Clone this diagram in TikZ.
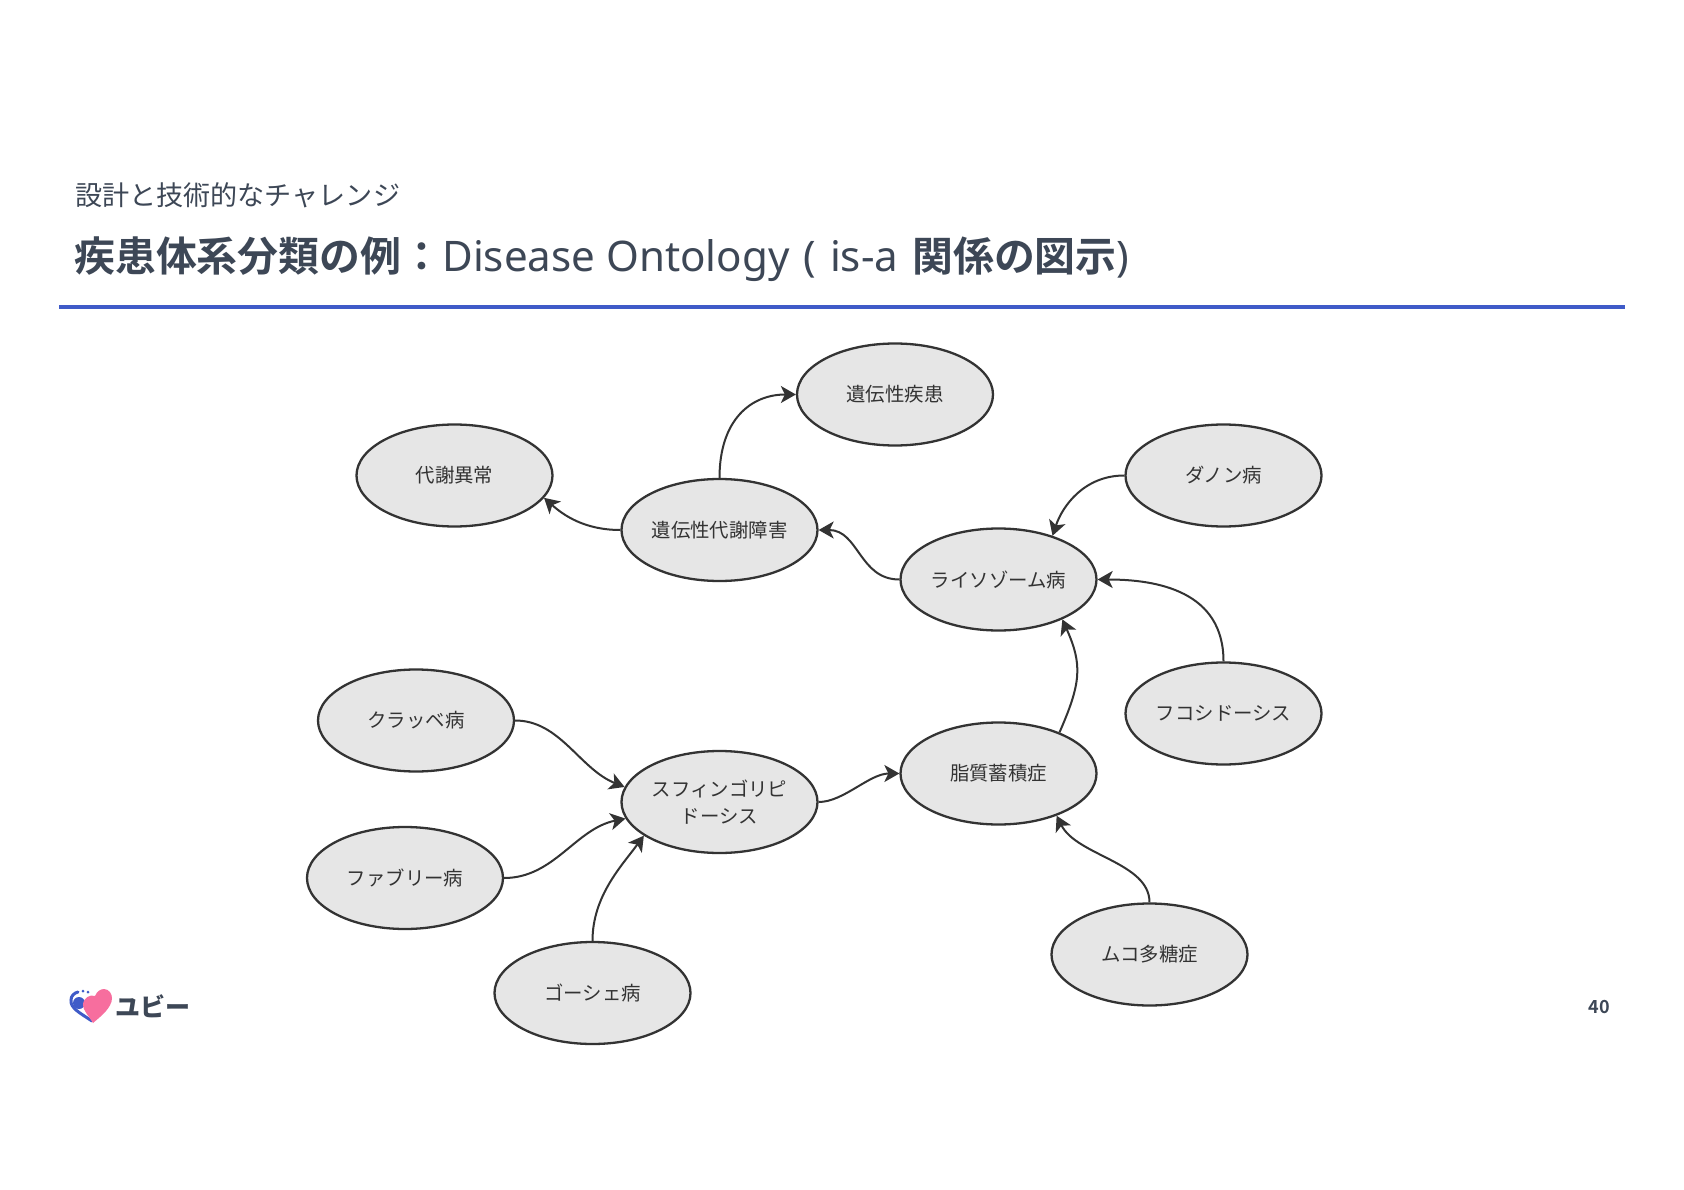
\documentclass[tikz,border=0pt]{standalone}
\usepackage{fontspec}
\setmainfont{Noto Sans CJK JP}
\newfontfamily\jpbold{Noto Sans CJK JP Bold}
\newfontfamily\jpblack{Noto Sans CJK JP Black}
\newfontfamily\latinf{Noto Sans}
\usetikzlibrary{arrows.meta,shapes.geometric}
\definecolor{nodefill}{HTML}{E6E6E6}
\definecolor{ink}{HTML}{333333}
\definecolor{slate}{HTML}{3D4756}
\definecolor{rule}{HTML}{3F5BC8}
\definecolor{heart}{HTML}{F76E9E}
\tikzset{
 dis/.style={ellipse,draw=ink,fill=nodefill,line width=2.3pt,minimum width=196pt,minimum height=102pt,inner sep=0pt,align=center,font=\fontsize{19.4}{27}\selectfont,text=ink},
 lnk/.style={draw=ink,line width=2pt,-{Stealth[length=15pt,width=17pt,inset=4pt]}},
 head/.style={anchor=base west,text=slate,inner sep=0pt}
}
\begin{document}
\begin{tikzpicture}[x=1pt,y=-1pt]
\useasboundingbox (0,0) rectangle (1684,1190);
\fill[white] (0,0) rectangle (1684,1190);
\node[head,font=\fontsize{27.1}{32}\selectfont] (sub) at (75,206) {設計と技術的なチャレンジ};
\node[head,font=\fontsize{40.9}{48}\selectfont] (ttl) at (74,272) {{\jpbold 疾患体系分類の例：}{\latinf\fontsize{42.1}{48}\selectfont Disease Ontology\hspace{3pt} (\hspace{3pt} is-a\hspace{3pt} }{\jpbold 関係の図示}{\latinf\fontsize{42.1}{48}\selectfont )}};
\draw[rule,line width=3.5pt] (59,307) coordinate (r1) -- (1625,307) coordinate (r2);
\node[dis] (ig) at (895,394.5) {遺伝性疾患};
\node[dis] (ta) at (454.5,475.5) {代謝異常};
\node[dis] (im) at (719.5,530) {遺伝性代謝障害};
\node[dis] (da) at (1223.5,475.5) {ダノン病};
\node[dis] (ly) at (998.5,579.5) {ライソゾーム病};
\node[dis] (fu) at (1223.5,713.5) {フコシドーシス};
\node[dis] (ku) at (416,720.5) {クラッベ病};
\node[dis] (sf) at (719.5,802) {スフィンゴリピ\\ドーシス};
\node[dis] (sh) at (998.5,773.5) {脂質蓄積症};
\node[dis] (fa) at (405,878) {ファブリー病};
\node[dis] (go) at (592.5,993) {ゴーシェ病};
\node[dis] (mu) at (1149.5,954.5) {ムコ多糖症};
\draw[lnk] (im.north) .. controls +(0,-58) and +(-45,0) .. (ig.west);
\draw[lnk] (im.west) .. controls +(-35,0) and +(20,18) .. (ta.-14);
\draw[lnk] (ly.west) .. controls +(-40,0) and +(40,0) .. (im.east);
\draw[lnk] (da.west) .. controls +(-40,0) and +(10,-30) .. (ly.39);
\draw[lnk] (fu.north) .. controls +(0,-70) and +(60,0) .. (ly.east);
\draw[lnk] (sh.34) .. controls +(22,-50) and +(20,45) .. (ly.-32);
\draw[lnk] (sf.east) .. controls +(25,0) and +(-30,0) .. (sh.west);
\draw[lnk] (ku.east) .. controls +(45,0) and +(-45,-18) .. (sf.171);
\draw[lnk] (fa.east) .. controls +(50,0) and +(-50,10) .. (sf.190);
\draw[lnk] (go.north) .. controls +(0,-45) and +(-22,30) .. (sf.204);
\draw[lnk] (mu.north) .. controls +(0,-40) and +(20,40) .. (sh.-36);
% logo
\fill[rule] (79,1003) circle (6pt);
\draw[rule,line width=3pt,line cap=round] (92,1021) .. controls (80,1013) and (70,1008) .. (71,1000) .. controls (71,996) and (74,993) .. (78,992);
\fill[rule] (83,991) circle (1.5pt);
\fill[rule] (88,992) circle (1.5pt);
\fill[heart] (93,1023) .. controls (88,1015) and (83,1010) .. (83,1005) .. controls (83,998) and (90,994) .. (95,996) .. controls (97,991) and (101,989) .. (104,989) .. controls (109,989) and (112,994) .. (112,998) .. controls (112,1008) and (100,1017) .. (93,1023) -- cycle;
\node[inner sep=0pt,text=slate,anchor=center,font=\jpblack\fontsize{25}{25}\selectfont] (lg) at (152.5,1006) {ユビー};
\node[inner sep=0pt,text=slate,font=\jpbold\fontsize{18}{18}\selectfont] (pg) at (1599,1007) {40};
\end{tikzpicture}
\end{document}
